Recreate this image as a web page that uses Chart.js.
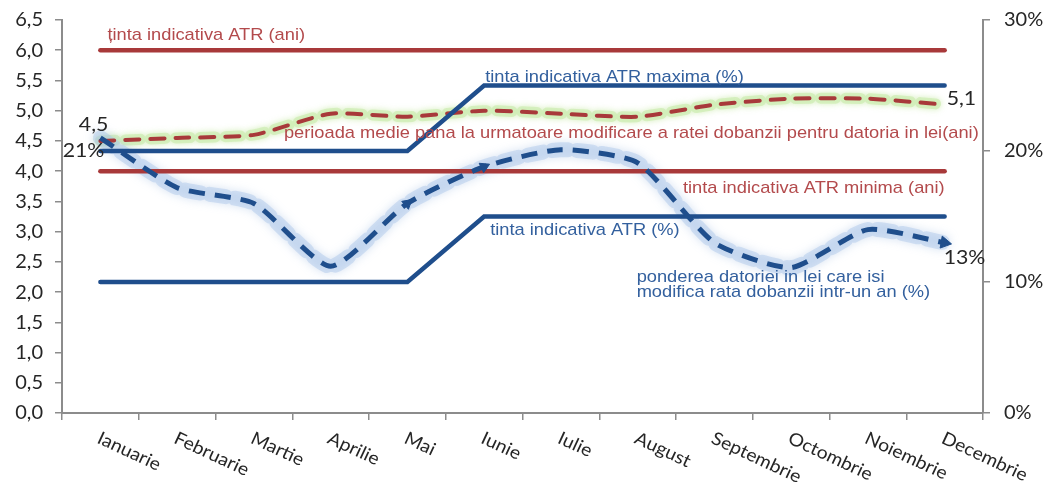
<!DOCTYPE html>
<html>
<head>
<meta charset="utf-8">
<script src="https://cdn.jsdelivr.net/npm/chart.js@4.4.1/dist/chart.umd.min.js"></script>
<style>
  html, body { margin: 0; padding: 0; background: #ffffff; }
  #wrap { width: 1047px; height: 487px; position: relative; }
</style>
</head>
<body>
<div id="wrap"><canvas id="c" width="1047" height="487"></canvas></div>
<script>
// Months of the year
const months = ['Ianuarie', 'Februarie', 'Martie', 'Aprilie', 'Mai', 'Iunie',
                'Iulie', 'August', 'Septembrie', 'Octombrie', 'Noiembrie', 'Decembrie'];

// ATR targets (years, left axis)
const atrTargetYears = [6.0, 6.0, 6.0, 6.0, 6.0, 6.0, 6.0, 6.0, 6.0, 6.0, 6.0, 6.0];
const atrMinYears    = [4.0, 4.0, 4.0, 4.0, 4.0, 4.0, 4.0, 4.0, 4.0, 4.0, 4.0, 4.0];

// ATR targets (%, right axis)
const atrMaxPct = [20, 20, 20, 20, 20, 25, 25, 25, 25, 25, 25, 25];
const atrPct    = [10, 10, 10, 10, 10, 15, 15, 15, 15, 15, 15, 15];

// Average period until the next interest-rate reset, lei debt (years)
const avgRefixYears = [4.5, 4.55, 4.6, 4.95, 4.9, 5.0, 4.95, 4.9, 5.1, 5.2, 5.2, 5.1];

// Share of lei debt whose interest rate resets within one year (%)
const refixSharePct = [21, 17.2, 16, 11.2, 16, 18.8, 20.1, 19.1, 13, 11.1, 14, 13];

// Axis tick values
const leftTicks  = [0, 0.5, 1, 1.5, 2, 2.5, 3, 3.5, 4, 4.5, 5, 5.5, 6, 6.5];
const rightTicks = [0, 10, 20, 30];

const RED = '#a8393a';
const BLUE = '#1f4e8c';
const RED_TEXT = '#b34a4c';
const BLUE_TEXT = '#33609e';
const AXIS = '#8c8c8c';
const TXT = '#262626';
const NUM_FONT = 'Lato, "Open Sans", sans-serif';

const fmt1 = v => v.toFixed(1).replace('.', ',');

// Arrow markers on the share series
const arrowRadius = [0, 0, 0, 0, 6, 6, 0, 0, 0, 0, 0, 7];
const arrowRotation = [0, 0, 0, 0, 50, 65, 0, 0, 0, 0, 0, 100];

// Soft glow behind selected lines
const glowPlugin = {
  id: 'glow',
  beforeDatasetDraw(chart, args) {
    const ds = chart.data.datasets[args.index];
    if (ds.glowColor) {
      chart.ctx.save();
      chart.ctx.shadowColor = ds.glowColor;
      chart.ctx.shadowBlur = ds.glowBlur || 8;
    }
  },
  afterDatasetDraw(chart, args) {
    const ds = chart.data.datasets[args.index];
    if (ds.glowColor) chart.ctx.restore();
  }
};

// Text drawn with a slight horizontal widening (and optional rotation)
function wideText(ctx, text, x, y, align, sx, angleDeg) {
  ctx.save();
  ctx.translate(x, y);
  if (angleDeg) ctx.rotate(angleDeg * Math.PI / 180);
  ctx.scale(sx, 1);
  ctx.textAlign = align;
  ctx.fillText(text, 0, 0);
  ctx.restore();
}

// Series captions, value labels and slanted month labels
const textPlugin = {
  id: 'texts',
  afterDraw(chart) {
    const ctx = chart.ctx;
    const x = chart.scales.x, yl = chart.scales.yL, yr = chart.scales.yR;
    const cx = i => x.getPixelForValue(i);
    const cap = 1.075;
    ctx.save();

    ctx.font = '17px "Liberation Sans", Arial, sans-serif';
    ctx.textBaseline = 'alphabetic';

    ctx.fillStyle = RED_TEXT;
    wideText(ctx, 'ținta indicativa ATR (ani)', cx(0) + 7, yl.getPixelForValue(6.0) - 10, 'left', cap);
    wideText(ctx, 'perioada medie pana la urmatoare modificare a ratei dobanzii pentru datoria in lei(ani)',
             cx(2) + 30, yl.getPixelForValue(4.5) - 3, 'left', cap);
    wideText(ctx, 'tinta indicativa ATR minima (ani)', cx(11), yl.getPixelForValue(4.0) + 22, 'right', cap);

    ctx.fillStyle = BLUE_TEXT;
    wideText(ctx, 'tinta indicativa ATR maxima (%)', cx(5) + 1, yr.getPixelForValue(25) - 4, 'left', cap);
    wideText(ctx, 'tinta indicativa ATR (%)', cx(5) + 6, yr.getPixelForValue(15) + 18, 'left', cap);
    wideText(ctx, 'ponderea datoriei in lei care isi', cx(7) - 1, yr.getPixelForValue(10), 'left', cap);
    wideText(ctx, 'modifica rata dobanzii intr-un an (%)', cx(7) - 1, yr.getPixelForValue(10) + 15, 'left', cap);

    // value labels at first and last points
    ctx.font = '19px ' + NUM_FONT;
    ctx.fillStyle = TXT;
    ctx.textBaseline = 'middle';
    const avgMeta = chart.getDatasetMeta(chart.data.datasets.findIndex(d => d.key === 'avg'));
    const shareMeta = chart.getDatasetMeta(chart.data.datasets.findIndex(d => d.key === 'share'));
    const a0 = avgMeta.data[0], a11 = avgMeta.data[11];
    const s0 = shareMeta.data[0], s11 = shareMeta.data[11];
    wideText(ctx, fmt1(avgRefixYears[0]), a0.x + 8, a0.y - 16, 'right', 1.12);
    wideText(ctx, refixSharePct[0] + '%', s0.x + 4, s0.y + 13, 'right', 1.12);
    wideText(ctx, fmt1(avgRefixYears[11]), a11.x + 2, a11.y - 6, 'left', 1.12);
    wideText(ctx, refixSharePct[11] + '%', s11.x - 1, s11.y + 15, 'left', 1.12);

    // slanted month labels
    ctx.font = '18px ' + NUM_FONT;
    ctx.textBaseline = 'top';
    months.forEach((m, i) => {
      wideText(ctx, m, cx(i) + 2, chart.chartArea.bottom + 16, 'left', 1.07, 25);
    });
    ctx.restore();
  }
};

const fitY = w => s => { s.width = w; s.paddingTop = 0; s.paddingBottom = 0; };

new Chart(document.getElementById('c'), {
  type: 'line',
  data: {
    labels: months,
    datasets: [
      { key: 'atrYears', data: atrTargetYears, yAxisID: 'yL', borderColor: RED, borderWidth: 4.5,
        pointRadius: 0, borderCapStyle: 'round', order: 5 },
      { key: 'atrMin', data: atrMinYears, yAxisID: 'yL', borderColor: RED, borderWidth: 4.5,
        pointRadius: 0, borderCapStyle: 'round', order: 5 },
      { key: 'avgGlow', data: avgRefixYears, yAxisID: 'yL', borderColor: 'rgba(205,237,178,0.7)',
        borderWidth: 11, borderDash: [15, 10], borderCapStyle: 'round', tension: 0.2, pointRadius: 0,
        glowColor: 'rgba(190,230,150,0.9)', glowBlur: 6, order: 8 },
      { key: 'avg', data: avgRefixYears, yAxisID: 'yL', borderColor: RED, borderWidth: 4,
        borderDash: [14, 11], borderCapStyle: 'round', tension: 0.2, pointRadius: 0, order: 4 },
      { key: 'atrMax', data: atrMaxPct, yAxisID: 'yR', borderColor: BLUE, borderWidth: 4.5,
        pointRadius: 0, borderCapStyle: 'round', tension: 0, order: 3 },
      { key: 'atrPct', data: atrPct, yAxisID: 'yR', borderColor: BLUE, borderWidth: 4.5,
        pointRadius: 0, borderCapStyle: 'round', tension: 0, order: 3 },
      { key: 'shareGlow', data: refixSharePct, yAxisID: 'yR', borderColor: 'rgba(170,198,232,0.45)',
        borderWidth: 15, borderDash: [16, 9], borderCapStyle: 'round', tension: 0.2, pointRadius: 0,
        glowColor: 'rgba(150,182,224,0.85)', glowBlur: 10, order: 7 },
      { key: 'share', data: refixSharePct, yAxisID: 'yR', borderColor: BLUE, borderWidth: 5,
        borderDash: [16, 10], borderCapStyle: 'butt', tension: 0.2,
        pointStyle: 'triangle', pointRadius: arrowRadius, pointRotation: arrowRotation,
        pointBackgroundColor: BLUE, pointBorderColor: BLUE, pointBorderWidth: 1, order: 1 }
    ]
  },
  options: {
    responsive: false,
    devicePixelRatio: 1,
    animation: false,
    layout: { padding: { top: 20, left: 0, right: 0, bottom: 0 } },
    plugins: { legend: { display: false }, tooltip: { enabled: false } },
    scales: {
      x: {
        type: 'category',
        offset: true,
        grid: { display: true, offset: true, drawOnChartArea: false, drawTicks: true, tickLength: 7,
                color: AXIS, lineWidth: 1.5 },
        border: { display: true, color: AXIS, width: 2 },
        ticks: { display: false },
        afterFit: s => { s.height = 74; s.paddingLeft = 0; s.paddingRight = 0; }
      },
      yL: {
        position: 'left', min: 0, max: 6.5,
        afterBuildTicks: s => { s.ticks = leftTicks.map(v => ({ value: v })); },
        grid: { drawOnChartArea: false, drawTicks: true, tickLength: 7, color: AXIS, lineWidth: 1.5 },
        border: { display: true, color: AXIS, width: 2 },
        ticks: { callback: v => fmt1(v), color: TXT, padding: 12,
                 font: { family: NUM_FONT, size: 20 } },
        afterFit: fitY(62)
      },
      yR: {
        position: 'right', min: 0, max: 30,
        afterBuildTicks: s => { s.ticks = rightTicks.map(v => ({ value: v })); },
        grid: { drawOnChartArea: false, drawTicks: true, tickLength: 7, color: AXIS, lineWidth: 1.5 },
        border: { display: true, color: AXIS, width: 2 },
        ticks: { callback: v => v + '%', color: TXT, padding: 14,
                 font: { family: NUM_FONT, size: 20 } },
        afterFit: fitY(64)
      }
    }
  },
  plugins: [glowPlugin, textPlugin]
});
</script>
</body>
</html>
